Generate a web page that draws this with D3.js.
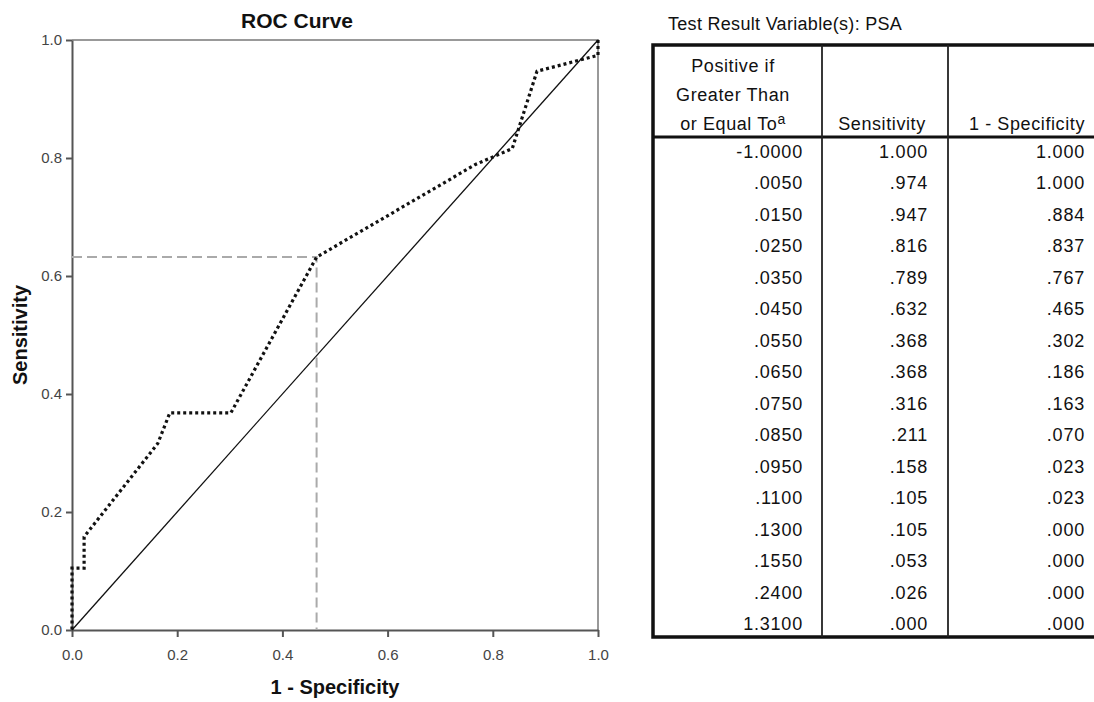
<!DOCTYPE html>
<html>
<head>
<meta charset="utf-8">
<script src="https://cdn.jsdelivr.net/npm/d3@7/dist/d3.min.js"></script>
<style>
	body { margin: 0; background: #fff; }
	text { font-family: "Liberation Sans", Arial, sans-serif; }
</style>
</head>
<body>
<div id="chart"></div>
<script>
// coordinates of the ROC table (SPSS output), one entry per cut-off
var thresholds   = [-1.0, 0.005, 0.015, 0.025, 0.035, 0.045, 0.055, 0.065, 0.075, 0.085, 0.095, 0.110, 0.130, 0.155, 0.240, 1.310];
var sensitivity  = [1.000, 0.974, 0.947, 0.816, 0.789, 0.632, 0.368, 0.368, 0.316, 0.211, 0.158, 0.105, 0.105, 0.053, 0.026, 0.000];
var oneMinusSpec = [1.000, 1.000, 0.884, 0.837, 0.767, 0.465, 0.302, 0.186, 0.163, 0.070, 0.023, 0.023, 0.000, 0.000, 0.000, 0.000];
var axisTicks    = [0.0, 0.2, 0.4, 0.6, 0.8, 1.0];
var headerCol1   = ["Positive if", "Greater Than", "or Equal To"];
var headerCols   = ["Sensitivity", "1 - Specificity"];
var cutoffIndex  = 5; // .0450 marked with the dashed guide lines

var width = 1094, height = 702;

// plain hyphen for negatives, like the SPSS output
var locale = d3.formatLocale({decimal: ".", thousands: ",", grouping: [3], currency: ["", ""], minus: "-"});

var svg = d3.select("#chart").append("svg")
	.attr("width", width)
	.attr("height", height);

svg.append("rect").attr("width", width).attr("height", height).attr("fill", "#fff");

////////////////////////////////////////
// ROC plot

var plot = {left: 72, right: 598, top: 40, bottom: 630};

var x = d3.scaleLinear().domain([0, 1]).range([plot.left, plot.right]);
var y = d3.scaleLinear().domain([0, 1]).range([plot.bottom, plot.top]);

// frame (top and right)
svg.append("path")
	.attr("d", "M" + x(0) + "," + y(1) + "H" + x(1) + "V" + y(0))
	.attr("fill", "none")
	.attr("stroke", "#999")
	.attr("stroke-width", 2);

var fmt1 = locale.format(".1f");

var gx = svg.append("g")
	.attr("transform", "translate(0," + plot.bottom + ")")
	.call(d3.axisBottom(x).tickValues(axisTicks).tickFormat(fmt1)
		.tickSize(7).tickSizeOuter(0).tickPadding(12));

var gy = svg.append("g")
	.attr("transform", "translate(" + plot.left + ",0)")
	.call(d3.axisLeft(y).tickValues(axisTicks).tickFormat(fmt1)
		.tickSize(6).tickSizeOuter(0).tickPadding(4));

[gx, gy].forEach(function(g) {
	g.select(".domain").attr("stroke", "#555").attr("stroke-width", 2);
	g.selectAll(".tick line").attr("stroke", "#555").attr("stroke-width", 2);
	g.selectAll(".tick text")
		.attr("fill", "#444")
		.style("font-size", "15px")
		.style("font-family", "'Liberation Sans', Arial, sans-serif");
});

// reference diagonal
svg.append("line")
	.attr("x1", x(0)).attr("y1", y(0))
	.attr("x2", x(1)).attr("y2", y(1))
	.attr("stroke", "#111")
	.attr("stroke-width", 1.3);

// dashed guide lines at the chosen cut-off
var cx = oneMinusSpec[cutoffIndex], cy = sensitivity[cutoffIndex];
svg.append("path")
	.attr("d", "M" + x(0) + "," + y(cy) + "H" + x(cx) + "V" + y(0))
	.attr("fill", "none")
	.attr("stroke", "#aaa")
	.attr("stroke-width", 2)
	.attr("stroke-dasharray", "10,5");

// ROC curve
var points = oneMinusSpec.map(function(d, i) { return [d, sensitivity[i]]; });
var line = d3.line()
	.x(function(d) { return x(d[0]); })
	.y(function(d) { return y(d[1]); });

svg.append("path")
	.datum(points)
	.attr("d", line)
	.attr("fill", "none")
	.attr("stroke", "#111")
	.attr("stroke-width", 3.2)
	.attr("stroke-dasharray", "3,3");

// titles
svg.append("text")
	.attr("x", 297).attr("y", 28)
	.attr("text-anchor", "middle")
	.style("font-size", "21px").style("font-weight", "bold")
	.attr("fill", "#111")
	.text("ROC Curve");

svg.append("text")
	.attr("x", (plot.left + plot.right) / 2).attr("y", 694)
	.attr("text-anchor", "middle")
	.style("font-size", "20px").style("font-weight", "bold")
	.attr("fill", "#111")
	.text("1 - Specificity");

svg.append("text")
	.attr("transform", "translate(27," + (plot.top + plot.bottom) / 2 + ") rotate(-90)")
	.attr("text-anchor", "middle")
	.style("font-size", "20px").style("font-weight", "bold")
	.attr("fill", "#111")
	.text("Sensitivity");

////////////////////////////////////////
// coordinates table

var tbl = {left: 653, col1: 822, col2: 948, right: 1100, top: 45, head: 137, bottom: 637};
var tfont = "18px";

svg.append("text")
	.attr("x", 668).attr("y", 30)
	.style("font-size", tfont).style("letter-spacing", "0.3px")
	.attr("fill", "#111")
	.text("Test Result Variable(s): PSA");

var row = d3.scaleLinear().domain([0, thresholds.length - 1]).range([157.5, 630]);

var fmtThr = function(v) { return locale.format(".4f")(v).replace(/^(-?)0\./, "$1."); };
var fmt3   = function(v) { return locale.format(".3f")(v).replace(/^(-?)0\./, "$1."); };

var cells = svg.append("g")
	.style("font-size", tfont)
	.style("letter-spacing", "0.8px")
	.attr("fill", "#111");

cells.selectAll(".c1").data(thresholds).enter().append("text")
	.attr("x", 803).attr("y", function(d, i) { return row(i); })
	.attr("text-anchor", "end").text(fmtThr);

cells.selectAll(".c2").data(sensitivity).enter().append("text")
	.attr("x", 928).attr("y", function(d, i) { return row(i); })
	.attr("text-anchor", "end").text(fmt3);

cells.selectAll(".c3").data(oneMinusSpec).enter().append("text")
	.attr("x", 1085).attr("y", function(d, i) { return row(i); })
	.attr("text-anchor", "end").text(fmt3);

// header
var head = svg.append("g").style("font-size", tfont).style("letter-spacing", "0.6px").attr("fill", "#111");
head.selectAll(".h1").data(headerCol1).enter().append("text")
	.attr("x", 733).attr("y", function(d, i) { return 72 + i * 29; })
	.attr("text-anchor", "middle")
	.text(function(d) { return d; });
head.select("text:last-child").append("tspan")
	.attr("dy", "-0.4em").style("font-size", "14px").text("a");

head.append("text").attr("x", 882).attr("y", 130).attr("text-anchor", "middle").text(headerCols[0]);
head.append("text").attr("x", 1085).attr("y", 130).attr("text-anchor", "end").text(headerCols[1]);

// borders
svg.append("path")
	.attr("d", "M" + tbl.right + "," + tbl.top + "H" + tbl.left + "V" + tbl.bottom + "H" + tbl.right)
	.attr("fill", "none").attr("stroke", "#111").attr("stroke-width", 3.5);
svg.append("line")
	.attr("x1", tbl.left).attr("x2", tbl.right)
	.attr("y1", tbl.head).attr("y2", tbl.head)
	.attr("stroke", "#111").attr("stroke-width", 3);
[tbl.col1, tbl.col2].forEach(function(cx) {
	svg.append("line")
		.attr("x1", cx).attr("x2", cx)
		.attr("y1", tbl.top).attr("y2", tbl.bottom)
		.attr("stroke", "#222").attr("stroke-width", 1.8);
});
</script>
</body>
</html>
